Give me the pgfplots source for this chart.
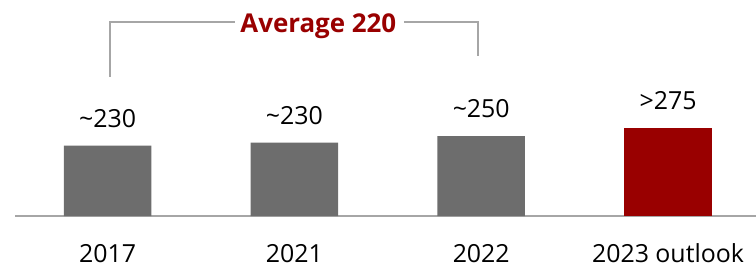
\documentclass[border=0pt]{standalone}
\usepackage{pgfplots}
\pgfplotsset{compat=1.18}
\usepackage{fontspec}
\setmainfont{Open Sans}
\definecolor{bargray}{HTML}{6D6D6D}
\definecolor{barred}{HTML}{990000}
\definecolor{linegray}{HTML}{A6A6A6}
\begin{document}
\begin{tikzpicture}
\begin{axis}[
  scale only axis,
  width=741bp, height=216bp,
  xmin=-0.496, xmax=3.471,
  ymin=54, ymax=594,
  hide y axis,
  axis x line*=bottom,
  x axis line style={-, draw=linegray, line width=2bp},
  xtick={0,1,2,3},
  xticklabels={2017,2021,2022,2023 outlook},
  major tick length=0pt,
  xticklabel style={anchor=base, inner sep=0pt, yshift=-46.5bp, font=\fontsize{25}{30}\selectfont, text=black},
  clip=false,
  ybar, bar width=87.5bp, bar shift=0pt,
  point meta=explicit symbolic,
  nodes near coords,
  nodes near coords style={anchor=base, inner sep=0pt, yshift=18.5bp, font=\fontsize{25}{30}\selectfont, text=black},
]
\addplot[fill=bargray, draw=none] coordinates {(0,230) [{\textasciitilde230}] (1,237.5) [{\textasciitilde230}] (2,254) [{\textasciitilde250}]};
\addplot[fill=barred, draw=none] coordinates {(3,275) [{>275}]};
\draw[linegray, line width=2bp] (axis cs:0.012,402) -- (axis cs:0.012,538) -- (axis cs:0.681,538);
\draw[linegray, line width=2bp] (axis cs:1.586,538) -- (axis cs:1.982,538) -- (axis cs:1.982,455);
\node[anchor=base, inner sep=0pt, text=barred, font=\fontsize{26}{30}\selectfont\bfseries] at (axis cs:1.128,513) {Average 220};
\coordinate (bl) at (rel axis cs:0,0);
\end{axis}
\pgfresetboundingbox
\path ([xshift=-15bp,yshift=-51bp]bl) rectangle ([xshift=741bp,yshift=216bp]bl);
\end{tikzpicture}
\end{document}
